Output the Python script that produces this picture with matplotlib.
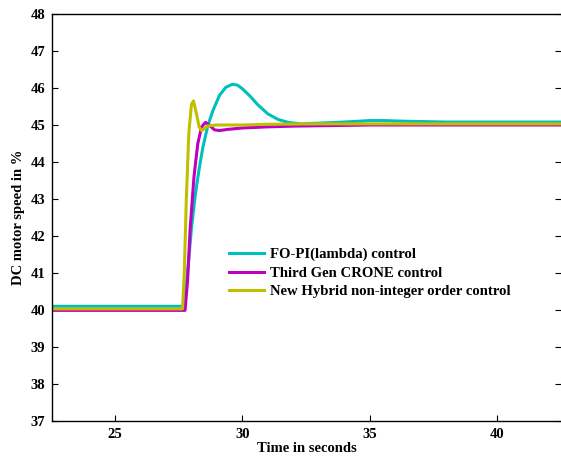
import matplotlib
matplotlib.use("Agg")
import matplotlib.pyplot as plt

# Data
t_cyan = [22.5, 27.65, 27.7, 27.8, 27.9, 28.0, 28.15, 28.3, 28.45, 28.65, 28.85, 29.1, 29.35,
          29.6, 29.8, 30.0, 30.3, 30.6, 31.0, 31.4, 31.8, 32.3, 33.0, 34.0, 35.0, 35.5, 36.5,
          38.0, 42.5]
y_cyan = [40.1, 40.1, 40.2, 40.7, 41.4, 42.2, 43.1, 43.8, 44.4, 45.0, 45.4, 45.8, 46.02,
          46.1, 46.08, 45.98, 45.78, 45.55, 45.3, 45.15, 45.07, 45.03, 45.05, 45.08, 45.12,
          45.12, 45.1, 45.08, 45.08]

t_mag = [22.5, 27.75, 27.85, 27.95, 28.1, 28.25, 28.4, 28.55, 28.7, 28.9, 29.1, 29.4, 30.0,
         31.0, 32.0, 33.0, 35.0, 42.5]
y_mag = [39.99, 39.99, 40.8, 42.2, 43.6, 44.5, 44.95, 45.07, 45.0, 44.87, 44.85, 44.88, 44.92,
         44.95, 44.97, 44.98, 45.0, 45.0]

t_yel = [22.5, 27.65, 27.72, 27.8, 27.9, 28.0, 28.08, 28.2, 28.3, 28.4, 28.5, 28.65, 29.0,
         30.0, 31.0, 33.0, 42.5]
y_yel = [40.03, 40.03, 41.0, 43.0, 44.8, 45.55, 45.65, 45.3, 44.95, 44.85, 44.9, 44.98, 45.0,
         45.0, 45.02, 45.03, 45.03]

labels = ["FO-PI(lambda) control", "Third Gen CRONE control",
          "New Hybrid non-integer order control"]
colors = ["#00BFBF", "#BF00BF", "#BFBF00"]
xticks = [25, 30, 35, 40]
yticks = list(range(37, 49))

plt.rcParams['font.family'] = ['Liberation Serif', 'DejaVu Serif']
plt.rcParams['font.weight'] = 'bold'

fig = plt.figure(figsize=(5.61, 4.58), dpi=100)
ax = fig.add_axes([0.0927, 0.0808, 0.9073, 0.8886])

ax.plot(t_cyan, y_cyan, color=colors[0], lw=2.2, label=labels[0])
ax.plot(t_mag, y_mag, color=colors[1], lw=2.2, label=labels[1])
ax.plot(t_yel, y_yel, color=colors[2], lw=2.2, label=labels[2])

ax.set_xlim(22.53, 42.5)
ax.set_ylim(37, 48)
ax.set_xticks(xticks)
ax.set_yticks(yticks)
ax.tick_params(direction='in', length=4, width=0.8, labelsize=10.5, top=False, right=True, pad=5)
for lab in ax.get_xticklabels() + ax.get_yticklabels():
    lab.set_fontweight('bold')
for s in ax.spines.values():
    s.set_linewidth(1.0)
ax.spines['right'].set_visible(False)

ax.set_xlabel("Time in seconds", fontsize=10.5, fontweight='bold', labelpad=1)
ax.set_ylabel("DC motor speed in %", fontsize=10.5, fontweight='bold', labelpad=4)

leg = ax.legend(loc='upper left', bbox_to_anchor=(0.336, 0.44), frameon=False,
                prop={'weight': 'bold', 'size': 10.65}, handlelength=2.35,
                handletextpad=0.4, labelspacing=0.35, borderaxespad=0)

fig.savefig("out.png", dpi=100)
